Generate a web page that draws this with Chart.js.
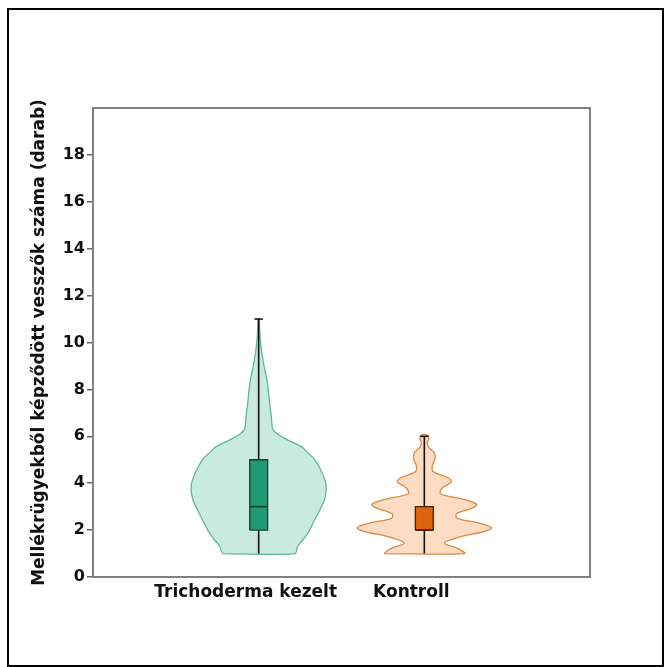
<!DOCTYPE html>
<html><head><meta charset="utf-8">
<script src="https://cdn.jsdelivr.net/npm/chart.js@4/dist/chart.umd.min.js"></script>
<style>html,body{margin:0;padding:0;background:#fff}canvas{display:block}</style>
</head><body>
<canvas id="c" width="664" height="667"></canvas>
<script>
// ---- data ----
const categories = ['Trichoderma kezelt', 'Kontroll'];
const yTickValues = [0, 2, 4, 6, 8, 10, 12, 14, 16, 18];
const yTitle = 'Mellékrügyekből képződött vesszők száma (darab)';

// box-plot statistics per category
const whiskerLow  = [1, 1];
const quartile1   = [2, 2];
const medians     = [3, 2];
const quartile3   = [5, 3];
const whiskerHigh = [11, 6];

// violin density profiles (value levels and relative density 0..1)
const trichoLevels  = [1, 1.3, 1.7, 2, 2.3, 2.85, 3.4, 4.0, 4.7, 5.1, 5.3, 5.55, 5.85, 6.1, 6.3, 6.8, 7.5, 8.3, 9.0, 9.7, 10.3, 11];
const trichoDensity = [0.54, 0.58, 0.69, 0.76, 0.81, 0.91, 0.99, 1.0, 0.90, 0.81, 0.73, 0.64, 0.43, 0.28, 0.21, 0.19, 0.16, 0.13, 0.08, 0.04, 0.02, 0.006];
const kontrollLevels  = [1.0, 1.2, 1.45, 1.7, 1.95, 2.1, 2.3, 2.5, 2.7, 2.95, 3.1, 3.3, 3.55, 3.8, 4.05, 4.2, 4.5, 4.75, 5.05, 5.3, 5.55, 5.75, 5.9, 6.05];
const kontrollDensity = [0.60, 0.51, 0.30, 0.52, 0.90, 1.0, 0.82, 0.49, 0.48, 0.72, 0.78, 0.60, 0.24, 0.27, 0.40, 0.37, 0.13, 0.12, 0.16, 0.15, 0.06, 0.045, 0.067, 0.045];

// ---- styling / geometry ----
const FONT = '"DejaVu Sans", Verdana, sans-serif';
const centers = [1, 2];
const violinHalfMax = 0.405;
const boxHalf = 0.054;
const capHalf = 0.025;
const violinFill   = ['#c9eade', '#fcdcc3'];
const violinStroke = ['#5fb698', '#d98a40'];
const boxFill      = ['#1f9a73', '#e0640f'];
const boxStroke    = ['#123f31', '#4a1e00'];

function violinPoints(c, levels, dens) {
  const left = levels.map((y, i) => ({x: c - dens[i] * violinHalfMax, y}));
  const right = levels.map((y, i) => ({x: c + dens[i] * violinHalfMax, y})).reverse();
  return left.concat(right, [left[0]]);
}
function boxPoints(i) {
  const c = centers[i];
  return [
    {x: c - boxHalf, y: quartile1[i]}, {x: c - boxHalf, y: quartile3[i]},
    {x: c + boxHalf, y: quartile3[i]}, {x: c + boxHalf, y: quartile1[i]},
    {x: c - boxHalf, y: quartile1[i]}
  ];
}

const levelSets = [[trichoLevels, trichoDensity], [kontrollLevels, kontrollDensity]];
const datasets = [];
categories.forEach((name, i) => {
  const c = centers[i];
  datasets.push({
    label: name + ' violin', data: violinPoints(c, levelSets[i][0], levelSets[i][1]),
    showLine: true, fill: 'shape', tension: 0.35, pointRadius: 0, borderWidth: 1.3,
    borderColor: violinStroke[i], backgroundColor: violinFill[i], order: 10
  });
  datasets.push({
    label: name + ' whisker', data: [{x: c, y: whiskerLow[i]}, {x: c, y: whiskerHigh[i]}],
    showLine: true, fill: false, pointRadius: 0, borderWidth: 1.6, borderColor: '#111', order: 6
  });
  datasets.push({
    label: name + ' cap', data: [{x: c - capHalf, y: whiskerHigh[i]}, {x: c + capHalf, y: whiskerHigh[i]}],
    showLine: true, fill: false, pointRadius: 0, borderWidth: 1.6, borderColor: '#111', order: 6
  });
  datasets.push({
    label: name + ' box', data: boxPoints(i),
    showLine: true, fill: 'shape', tension: 0, pointRadius: 0, borderWidth: 1.3,
    borderColor: boxStroke[i], backgroundColor: boxFill[i], order: 3
  });
  datasets.push({
    label: name + ' median', data: [{x: c - boxHalf, y: medians[i]}, {x: c + boxHalf, y: medians[i]}],
    showLine: true, fill: false, pointRadius: 0, borderWidth: 1.6, borderColor: boxStroke[i], order: 2
  });
});

const framePlugin = {
  id: 'frame',
  afterDraw(chart) {
    const {ctx, chartArea: a} = chart;
    ctx.save();
    ctx.strokeStyle = '#808080';
    ctx.lineWidth = 2;
    ctx.beginPath();
    ctx.moveTo(a.left, a.top); ctx.lineTo(a.right, a.top); ctx.lineTo(a.right, a.bottom);
    ctx.stroke();
    ctx.strokeStyle = '#000';
    ctx.lineWidth = 2;
    ctx.beginPath();
    ctx.moveTo(8, 667); ctx.lineTo(8, 9); ctx.lineTo(663, 9); ctx.lineTo(663, 666); ctx.lineTo(8, 666);
    ctx.stroke();
    ctx.restore();
  }
};

new Chart(document.getElementById('c'), {
  type: 'scatter',
  data: {datasets},
  options: {
    responsive: false, animation: false, devicePixelRatio: 1,
    layout: {padding: {left: 0, top: 108, right: 74, bottom: 0}},
    plugins: {legend: {display: false}, tooltip: {enabled: false}},
    scales: {
      x: {
        type: 'linear', min: 0, max: 3,
        afterBuildTicks: s => { s.ticks = centers.map(v => ({value: v})); },
        afterFit: s => { s.height = 90; },
        ticks: {callback: v => categories[v - 1], font: {family: FONT, size: 17, weight: 'bold'}, color: '#111', padding: 5, labelOffset: -13, autoSkip: false, maxRotation: 0},
        grid: {display: false, drawTicks: false},
        border: {display: true, color: '#808080', width: 2}
      },
      y: {
        type: 'linear', min: 0, max: 20,
        afterBuildTicks: s => { s.ticks = yTickValues.map(v => ({value: v})); },
        afterFit: s => { s.width = 93; },
        ticks: {font: {family: FONT, size: 16, weight: 'bold'}, color: '#111', padding: 2},
        grid: {drawOnChartArea: false, drawTicks: true, tickLength: 6, color: '#666', lineWidth: 1.5},
        border: {display: true, color: '#808080', width: 2},
        title: {display: true, text: yTitle, font: {family: FONT, size: 17, weight: 'bold'}, color: '#111', padding: {top: 29, bottom: 0}}
      }
    }
  },
  plugins: [framePlugin]
});
</script>
</body></html>
